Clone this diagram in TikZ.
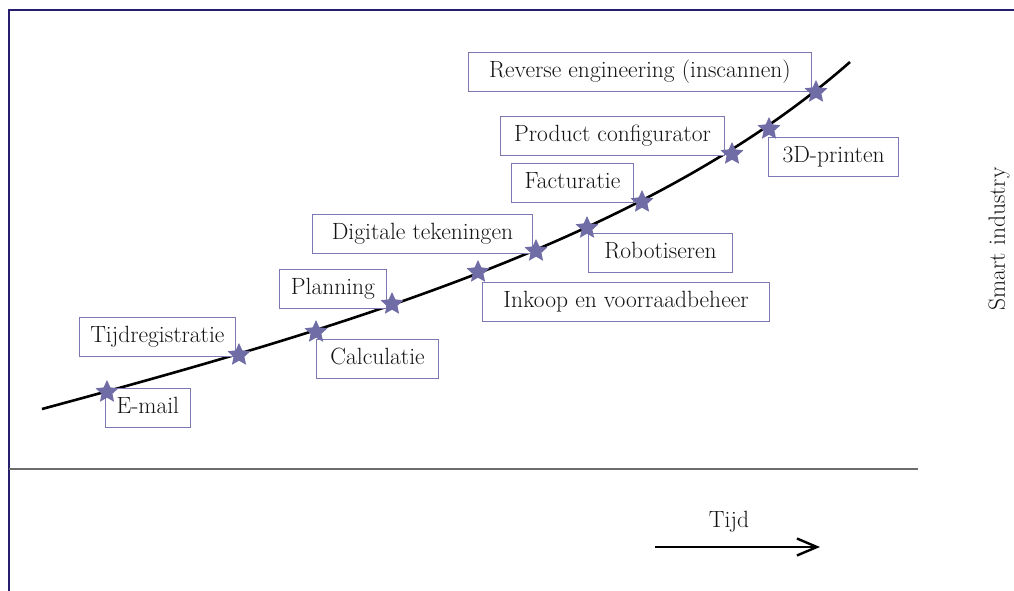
\documentclass[tikz,border=0pt]{standalone}
\usepackage{xcolor}
\usetikzlibrary{positioning, shapes.geometric, arrows.meta}
\definecolor{starblue}{RGB}{112,108,166}
\definecolor{boxblue}{RGB}{124,120,178}
\definecolor{framenavy}{RGB}{40,30,110}
\definecolor{axisgrey}{RGB}{108,108,108}
\definecolor{inkgrey}{RGB}{20,20,20}

\begin{document}
\begin{tikzpicture}[x=1pt, y=-1pt,
    font=\fontsize{23.5}{28}\selectfont, text=inkgrey,
    starmark/.style={star, star points=5, star point ratio=2.1, fill=starblue,
      inner sep=0pt, minimum size=24pt},
    item/.style={draw=boxblue, line width=1.1pt, fill=white, inner xsep=11pt,
      minimum height=39pt, text height=16pt, text depth=5pt},
  ]
  \useasboundingbox (0,0) rectangle (1014,591);

  % frame and time axis
  \draw[framenavy, line width=2pt] (9,591) -- (9,10.5) -- (1014,10.5);
  \draw[axisgrey, line width=2pt] (9,469) -- (918,469);
  \coordinate (t0) at (655,547);
  \coordinate (t1) at (820,547);
  \draw[-{Straight Barb[length=20pt, width=17pt]}, line width=2.4pt] (t0) -- (t1);
  \node (tijd) at (729,522) {Tijd};
  \node[rotate=90] (smart) at (999,239) {Smart industry};

  % points on the curve
  \coordinate (c0) at (42,409);
  \coordinate (c1) at (107,392);
  \coordinate (c2) at (239,355);
  \coordinate (c3) at (316,332);
  \coordinate (c4) at (392,304);
  \coordinate (c5) at (478,272);
  \coordinate (c6) at (536,251);
  \coordinate (c7) at (587,228);
  \coordinate (c8) at (642,202);
  \coordinate (c9) at (732,154);
  \coordinate (c10) at (769,129);
  \coordinate (c11) at (816,92);
  \coordinate (c12) at (850,62);

  \draw[line width=2.6pt] (c0) .. controls (342,328) and (650,238) .. (c12);

  % labels
  \node[item, minimum width=82pt, below right=-4pt and -2pt of c1] (email) {E-mail};
  \node[item, minimum width=156pt, above left=-2pt and 3pt of c2] (tijdreg) {Tijdregistratie};
  \node[item, minimum width=122pt, below right=7pt and 0pt of c3] (calc) {Calculatie};
  \node[item, minimum width=107pt, above left=-5pt and 5pt of c4] (plan) {Planning};
  \node[item, minimum width=287pt, below right=10pt and 4pt of c5] (inkoop) {Inkoop en voorraadbeheer};
  \node[item, minimum width=220pt, above left=-3pt and 3pt of c6] (digi) {Digitale tekeningen};
  \node[item, minimum width=144pt, below right=5pt and 1pt of c7] (robot) {Robotiseren};
  \node[item, minimum width=122pt, above left=-1pt and 8pt of c8] (fact) {Facturatie};
  \node[item, minimum width=224pt, above left=-2pt and 7pt of c9] (config) {Product configurator};
  \node[item, minimum width=130pt, below right=8pt and -1pt of c10] (print) {3D-printen};
  \node[item, minimum width=343pt, above left=0pt and 4pt of c11] (scan) {Reverse engineering (inscannen)};

  % stars on top
  \foreach \i in {1,...,11}
    \node[starmark] (s\i) at (c\i) {};
\end{tikzpicture}
\end{document}
